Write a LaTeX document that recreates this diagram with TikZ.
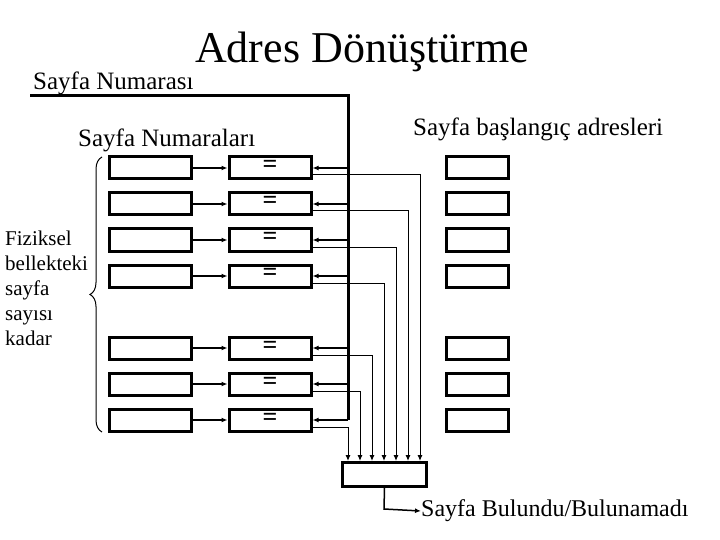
\documentclass[tikz,border=0pt]{standalone}
\usepackage{fontspec}
\setmainfont{Liberation Serif}
\usetikzlibrary{arrows.meta,decorations.pathreplacing}
\begin{document}
\begin{tikzpicture}[x=1pt,y=-1pt,
  bx/.style={draw,line width=3pt,minimum height=22pt,inner sep=0pt},
  lbox/.style={bx,minimum width=82pt},
  cbox/.style={bx,minimum width=82pt,font=\fontsize{26}{26}\selectfont\bfseries},
  rbox/.style={bx,minimum width=62pt},
  tip/.style={-{Latex[length=6pt,width=5pt]}},
  lbl/.style={inner sep=0pt,anchor=west}]
\useasboundingbox (0,0) rectangle (720,540);
\node[font=\fontsize{44}{44}\selectfont,inner sep=0pt] (title) at (362,52) {Adres Dönüştürme};
\node[lbl,font=\fontsize{25}{25}\selectfont] (sn) at (33,83) {Sayfa Numarası};
\node[lbl,font=\fontsize{25}{25}\selectfont] (sns) at (78,140) {Sayfa Numaraları};
\node[lbl,font=\fontsize{25}{25}\selectfont] (sba) at (413,129) {Sayfa başlangıç adresleri};
\coordinate (c0) at (30,96);
\coordinate (bt) at (348,96);
\coordinate (bb) at (348,420);
\draw[line width=3pt] (c0) -- (bt) -- (bb);
\foreach \i/\y in {1/168,2/204,3/240,4/276,5/348,6/384,7/420}{
  \node[lbox] (l\i) at (150,\y) {};
  \node[cbox] (c\i) at (270,\y) {\raisebox{-5pt}[0pt][0pt]{=}};
  \node[rbox] (r\i) at (477,\y) {};
  \draw[tip,line width=1.5pt] (l\i) -- (c\i);
  \coordinate (b\i) at (348,\y);
  \draw[tip,line width=1.5pt] (b\i) -- (c\i.east);
}
\node[draw,line width=3pt,minimum width=84pt,minimum height=24pt,inner sep=0pt] (m) at (384.5,474.5) {};
\foreach \i/\x in {1/420,2/408,3/396,4/384,5/372,6/360,7/348}{
  \draw[tip,line width=1pt] ([yshift=-7pt]c\i.east) -| (\x,461);
}
\coordinate (o) at (384,509);
\node[lbl,font=\fontsize{24}{24}\selectfont] (res) at (421,511) {Sayfa Bulundu/Bulunamadı};
\draw[tip,line width=1.5pt] (m.south) -- (o) -- (res.west);
\draw[line width=1pt,decorate,decoration={brace,amplitude=12pt,mirror}] (102,157) -- (102,432);
\node[lbl,align=left,font=\fontsize{21}{25}\selectfont,anchor=north west] (fz) at (5,231) {Fiziksel\\bellekteki\\sayfa\\sayısı\\kadar};
\end{tikzpicture}
\end{document}
